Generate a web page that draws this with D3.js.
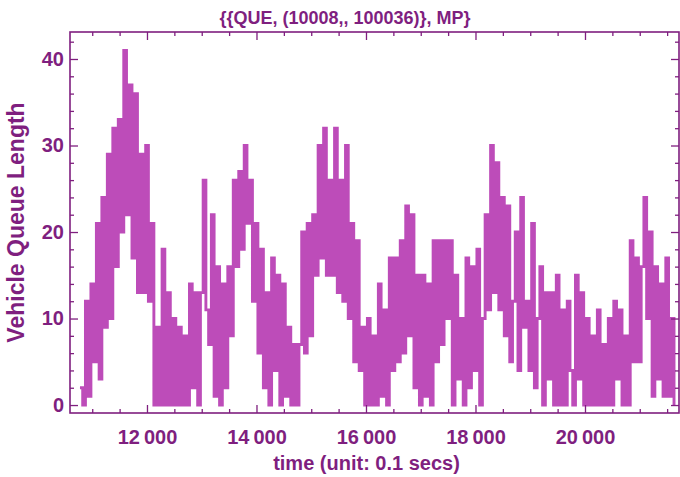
<!DOCTYPE html>
<html>
<head>
<meta charset="utf-8">
<script src="https://cdn.jsdelivr.net/npm/d3@7"></script>
<style>
  body { margin: 0; background: #fff; }
  svg text { font-family: "Liberation Sans", Arial, sans-serif; font-weight: bold; fill: #7f1f7f; }
</style>
</head>
<body>
<div id="chart-container"></div>
<script>
// Queue length samples (one every 50 time units)
var tStart = 10776, tStep = 50;
var queue = [
  2, 0, 12, 1, 14, 5, 21, 3, 24, 9, 29, 10, 32, 16, 33, 20, 41, 22, 37, 17,
  36, 13, 29, 13, 30, 12, 21, 0, 9, 0, 18, 0, 13, 0,
  10, 0, 9, 0, 8, 0, 14, 2, 13, 0, 13, 26, 11, 7, 22, 1,
  16, 0, 14, 2, 16, 8, 26, 16, 27, 18, 30, 21, 26, 12, 21, 6,
  18, 2, 13, 0,
  17, 4, 15, 0, 14, 1, 9, 0, 7, 0, 7, 20, 6, 21, 8, 22,
  15, 30, 17, 32, 15, 26, 15, 32, 13, 26, 12, 30, 10, 21, 5, 19,
  4, 9, 0,
  10, 0, 8, 0, 14, 1, 11, 0, 17, 4, 17, 5, 19, 6, 23, 8,
  22, 2, 15, 0, 15, 1, 14, 0, 19, 5, 19, 7, 19, 10, 19, 0,
  15, 3, 10, 0,
  17, 2, 16, 4, 18, 0, 10, 22, 11, 30, 13, 28, 11, 24, 8, 23,
  5, 12, 20, 4, 24, 9, 12, 4, 21, 2, 10, 16, 0, 13, 3, 13,
  0, 15, 0, 11,
  0, 12, 4, 0, 15, 3, 13, 0, 10, 0, 8, 0, 11, 0, 7, 0,
  10, 0, 12, 3, 11, 0, 8, 0, 19, 5, 17, 5, 16, 24, 10, 20,
  1, 16, 3, 14, 1, 17, 1, 10, 0
];

var xMajor = [12000, 14000, 16000, 18000, 20000];
var xMinor = [11000, 11500, 12500, 13000, 13500, 14500, 15000, 15500, 16500, 17000,
              17500, 18500, 19000, 19500, 20500, 21000, 21500];
var yMajor = [0, 10, 20, 30, 40];
var yMinor = [2, 4, 6, 8, 12, 14, 16, 18, 22, 24, 26, 28, 32, 34, 36, 38, 42];

var titleText = "{{QUE, (10008,, 100036)}, MP}";
var xLabel = "time (unit: 0.1 secs)";
var yLabel = "Vehicle Queue Length";

var data = queue.map(function(v, i) { return { t: tStart + i * tStep, q: v }; });

var margin = { top: 32, right: 1, bottom: 64, left: 70 },
  width = 680 - margin.left - margin.right,
  height = 477 - margin.top - margin.bottom;

var frameColor = "#7f1f7f";

var svg = d3.select("#chart-container")
  .append("svg")
  .attr("width", 680)
  .attr("height", 477)
  .append("g")
  .attr("transform", "translate(" + margin.left + "," + margin.top + ")");

var xScale = d3.scaleLinear().domain([10594, 21717]).range([0, width]);
var yScale = d3.scaleLinear().domain([-0.92, 43.12]).range([height, 0]);

svg.append("clipPath").attr("id", "plot-clip")
  .append("rect").attr("width", width).attr("height", height);

// the queue line, drawn as steps so the strokes stand upright
var line = d3.line()
  .curve(d3.curveStepAfter)
  .x(function(d) { return xScale(d.t); })
  .y(function(d) { return yScale(d.q); });

svg.append("path")
  .datum(data)
  .attr("clip-path", "url(#plot-clip)")
  .attr("fill", "none")
  .attr("stroke", "#bd4cb9")
  .attr("stroke-width", 2.9)
  .attr("stroke-linejoin", "miter")
  .attr("d", line);

var fmt = function(d) { return d3.format(",")(d).replace(",", "\u2009"); };

function styleAxis(g) {
  g.select(".domain").remove();
  g.selectAll("line").attr("stroke", frameColor).attr("stroke-width", 1.3);
  g.selectAll("text").style("font-size", "20px").attr("fill", frameColor);
}

// bottom
svg.append("g").attr("transform", "translate(0," + height + ")")
  .call(d3.axisBottom(xScale).tickValues(xMajor).tickSize(-8).tickPadding(17).tickFormat(fmt))
  .call(styleAxis);
svg.append("g").attr("transform", "translate(0," + height + ")")
  .call(d3.axisBottom(xScale).tickValues(xMinor).tickSize(-4).tickFormat(""))
  .call(styleAxis);
// top
svg.append("g")
  .call(d3.axisTop(xScale).tickValues(xMajor).tickSize(-8).tickFormat(""))
  .call(styleAxis);
svg.append("g")
  .call(d3.axisTop(xScale).tickValues(xMinor).tickSize(-4).tickFormat(""))
  .call(styleAxis);
// left
svg.append("g")
  .call(d3.axisLeft(yScale).tickValues(yMajor).tickSize(-8).tickPadding(6))
  .call(styleAxis);
svg.append("g")
  .call(d3.axisLeft(yScale).tickValues(yMinor).tickSize(-4).tickFormat(""))
  .call(styleAxis);
// right
svg.append("g").attr("transform", "translate(" + width + ",0)")
  .call(d3.axisRight(yScale).tickValues(yMajor).tickSize(-8).tickFormat(""))
  .call(styleAxis);
svg.append("g").attr("transform", "translate(" + width + ",0)")
  .call(d3.axisRight(yScale).tickValues(yMinor).tickSize(-4).tickFormat(""))
  .call(styleAxis);

// frame
svg.append("rect")
  .attr("width", width)
  .attr("height", height)
  .attr("fill", "none")
  .attr("stroke", frameColor)
  .attr("stroke-width", 1.6);

// title (centred on the whole picture) and axis labels
svg.append("text")
  .attr("x", 345 - margin.left)
  .attr("y", -margin.top + 24)
  .attr("text-anchor", "middle")
  .style("font-size", "18px")
  .text(titleText);

svg.append("text")
  .attr("x", width / 2 - 8)
  .attr("y", height + 57)
  .attr("text-anchor", "middle")
  .style("font-size", "20px")
  .text(xLabel);

svg.append("text")
  .attr("transform", "rotate(-90)")
  .attr("x", -height / 2)
  .attr("y", -margin.left + 24)
  .attr("text-anchor", "middle")
  .style("font-size", "23px")
  .text(yLabel);
</script>
</body>
</html>
